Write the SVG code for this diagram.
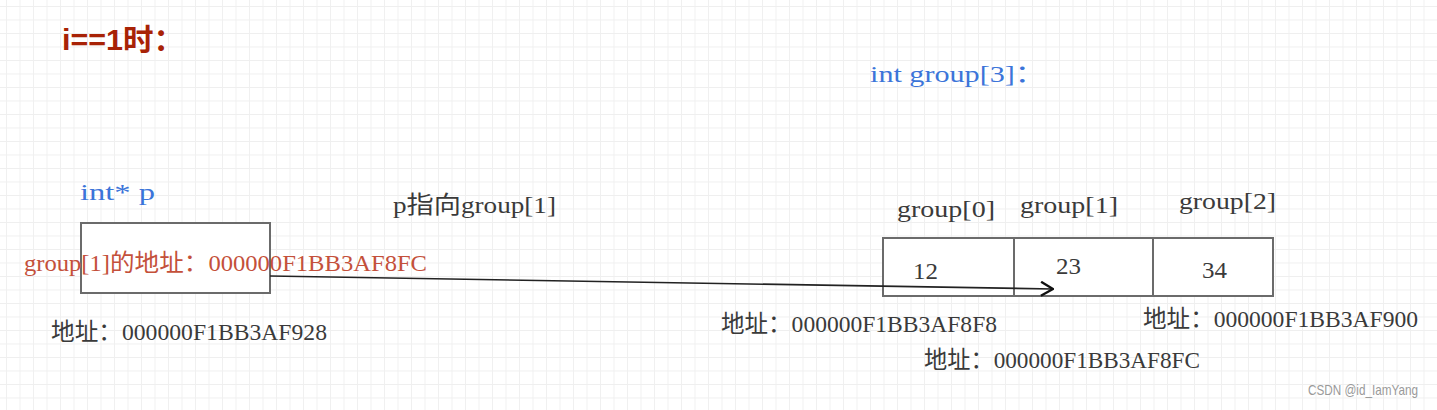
<svg xmlns="http://www.w3.org/2000/svg" width="1437" height="410" viewBox="0 0 1437 410">
<defs>
<pattern id="grid" patternUnits="userSpaceOnUse" x="6" y="6" width="13.5" height="13.5">
<path d="M0,0 H13.5 M0,0 V13.5" fill="none" stroke="#efefef" stroke-width="1.8"/>
</pattern>
<marker id="chev" viewBox="0 0 14 16" refX="13" refY="8" markerWidth="14" markerHeight="16" markerUnits="userSpaceOnUse" orient="auto">
<path d="M1,1 L13,8 L1,15" fill="none" stroke="#111" stroke-width="2.4" stroke-linejoin="miter"/>
</marker>
</defs>
<style>
.t{font-family:"Liberation Serif","Noto Sans CJK SC",serif;font-size:24px;fill:#3a3a3a}
.blue{fill:#3b74d9}
.red{fill:#c4503a}
.box{fill:#ffffff;stroke:#6b6b6b;stroke-width:2}
</style>
<rect width="1437" height="410" fill="#ffffff"/>
<rect width="1437" height="410" fill="url(#grid)"/>

<g id="title">
<text x="62" y="50" style="font-family:'Liberation Sans','Noto Sans CJK SC',sans-serif;font-size:30px;font-weight:bold;fill:#a82206" textLength="122" lengthAdjust="spacingAndGlyphs">i==1时：</text>
</g>

<g id="array-label">
<text class="t blue" x="870" y="82" textLength="175" lengthAdjust="spacingAndGlyphs">int group[3]：</text>
</g>

<g id="pointer-p">
<text class="t blue" x="80" y="200" textLength="75" lengthAdjust="spacingAndGlyphs">int* p</text>
<rect class="box" x="81" y="223" width="189" height="70"/>
<text class="t red" x="24" y="271" textLength="403" lengthAdjust="spacingAndGlyphs">group[1]的地址：000000F1BB3AF8FC</text>
<text class="t" x="51" y="340" textLength="276" lengthAdjust="spacingAndGlyphs">地址：000000F1BB3AF928</text>
</g>

<g id="group0">
<rect class="box" x="883" y="238" width="131" height="58"/>
<text class="t" x="897" y="217" textLength="98" lengthAdjust="spacingAndGlyphs">group[0]</text>
<text class="t" x="913" y="279" textLength="25" lengthAdjust="spacingAndGlyphs">12</text>
<text class="t" x="721" y="332" textLength="276" lengthAdjust="spacingAndGlyphs">地址：000000F1BB3AF8F8</text>
</g>

<g id="group1">
<rect class="box" x="1014" y="238" width="139" height="58"/>
<text class="t" x="1020" y="213" textLength="98" lengthAdjust="spacingAndGlyphs">group[1]</text>
<text class="t" x="1056" y="274" textLength="25" lengthAdjust="spacingAndGlyphs">23</text>
<text class="t" x="924" y="368" textLength="276" lengthAdjust="spacingAndGlyphs">地址：000000F1BB3AF8FC</text>
</g>

<g id="group2">
<rect class="box" x="1153" y="238" width="120" height="58"/>
<text class="t" x="1179" y="209" textLength="97" lengthAdjust="spacingAndGlyphs">group[2]</text>
<text class="t" x="1202" y="278" textLength="25" lengthAdjust="spacingAndGlyphs">34</text>
<text class="t" x="1143" y="327" textLength="275" lengthAdjust="spacingAndGlyphs">地址：000000F1BB3AF900</text>
</g>

<g id="connectors">
<line x1="270" y1="276" x2="1053" y2="289" stroke="#222" stroke-width="1.6" marker-end="url(#chev)"/>
<text class="t" x="393" y="213" textLength="163" lengthAdjust="spacingAndGlyphs">p指向group[1]</text>
</g>

<g id="watermark">
<text x="1308" y="395" style="font-family:'Liberation Sans',sans-serif;font-size:15px;fill:#9a9a9a" textLength="110" lengthAdjust="spacingAndGlyphs">CSDN @id_IamYang</text>
</g>
</svg>
